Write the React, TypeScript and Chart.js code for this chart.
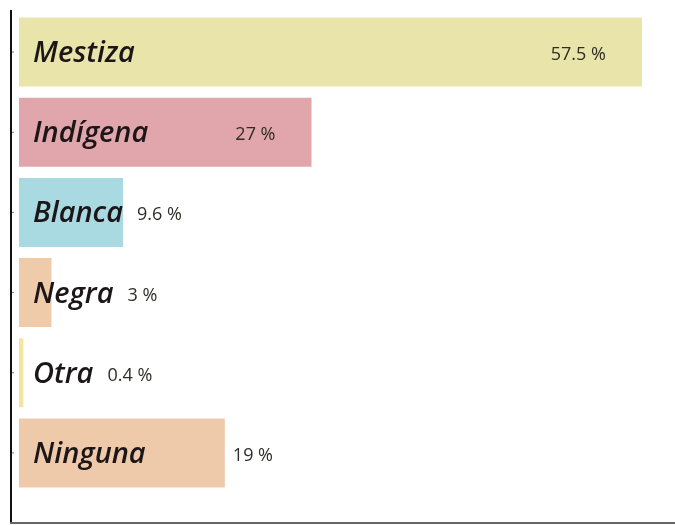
import React, { useEffect, useRef } from "react";
import { Chart, registerables } from "chart.js";

Chart.register(...registerables);

const categories: string[] = ["Mestiza", "Indígena", "Blanca", "Negra", "Otra", "Ninguna"];
const values: number[] = [57.5, 27, 9.6, 3, 0.4, 19];
const valueLabels: string[] = ["57.5 %", "27 %", "9.6 %", "3 %", "0.4 %", "19 %"];
const colors: string[] = ["#e9e4a9", "#e0a6ab", "#a9d9e1", "#f0cba9", "#f5e3a0", "#eecaab"];

const labelPlugin = {
  id: "labelPlugin",
  afterDatasetsDraw(chart: any) {
    const ctx: CanvasRenderingContext2D = chart.ctx;
    const area = chart.chartArea;
    const meta = chart.getDatasetMeta(0);
    const xScale = chart.scales.x;
    ctx.save();
    const axisX = area.left - 8;
    ctx.strokeStyle = "#111111";
    ctx.lineWidth = 2;
    ctx.beginPath();
    ctx.moveTo(axisX, area.top - 2);
    ctx.lineTo(axisX, area.bottom + 30);
    ctx.stroke();
    ctx.strokeStyle = "#666666";
    ctx.lineWidth = 2;
    ctx.beginPath();
    ctx.moveTo(axisX - 1, area.bottom + 30);
    ctx.lineTo(chart.width, area.bottom + 30);
    ctx.stroke();

    meta.data.forEach((bar: any, i: number) => {
      const y = bar.y;
      ctx.strokeStyle = "#777777";
      ctx.lineWidth = 1;
      ctx.beginPath();
      ctx.moveTo(axisX + 1, y);
      ctx.lineTo(axisX + 3, y);
      ctx.stroke();

      ctx.font = "italic 600 29px 'Open Sans'";
      ctx.fillStyle = "#1c1618";
      ctx.textAlign = "left";
      ctx.textBaseline = "alphabetic";
      const lx = area.left + 14;
      ctx.fillText(categories[i], lx, y + 10);
      const labelEnd = lx + ctx.measureText(categories[i]).width;

      ctx.font = "500 18px 'Open Sans'";
      ctx.fillStyle = "#2e2d27";
      const barEnd = xScale.getPixelForValue(values[i]);
      if (values[i] >= 20) {
        ctx.textAlign = "right";
        ctx.fillText(valueLabels[i], barEnd - 36, y + 8);
      } else {
        ctx.textAlign = "left";
        ctx.fillText(valueLabels[i], Math.max(barEnd + 8, labelEnd + 14), y + 8);
      }
    });
    ctx.restore();
  },
};

export default function App() {
  const ref = useRef<HTMLCanvasElement | null>(null);
  useEffect(() => {
    if (!ref.current) return;
    const chart = new Chart(ref.current, {
      type: "bar",
      data: {
        labels: categories,
        datasets: [
          {
            data: values,
            backgroundColor: colors,
            borderWidth: 0,
            barPercentage: 0.86,
            categoryPercentage: 1,
          },
        ],
      },
      options: {
        indexAxis: "y",
        animation: false,
        responsive: false,
        devicePixelRatio: 1,
        layout: { padding: { left: 19, right: 6, top: 12, bottom: 32 } },
        plugins: { legend: { display: false }, tooltip: { enabled: false } },
        scales: {
          x: { display: false, min: 0, max: 60 },
          y: { display: false },
        },
      },
      plugins: [labelPlugin],
    });
    return () => chart.destroy();
  }, []);
  return (
    <div style={{ position: "fixed", left: 0, top: 0, width: 675, height: 525, background: "#ffffff" }}>
      <canvas ref={ref} width={675} height={525} />
    </div>
  );
}
